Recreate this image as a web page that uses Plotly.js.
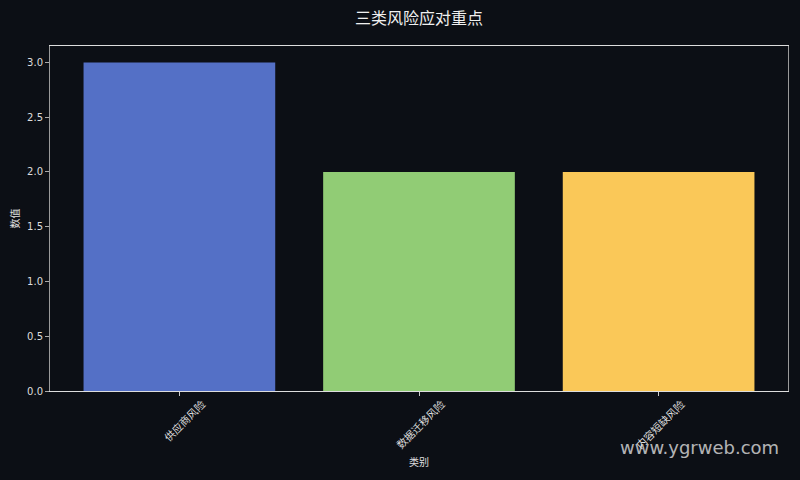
<!DOCTYPE html>
<html>
<head>
<meta charset="utf-8">
<script src="https://cdn.plot.ly/plotly-3.0.1.min.js"></script>
<style>
  html, body { margin: 0; padding: 0; background: #0c0f15; }
  #chart { width: 800px; height: 480px; }
</style>
</head>
<body>
<div id="chart"></div>
<script>
var categories = ['供应商风险', '数据迁移风险', '内容短缺风险'];
var values = [3, 2, 2];
var barColors = ['#5470c6', '#91cc75', '#fac858'];
var yTicks = [0, 0.5, 1, 1.5, 2, 2.5, 3];

var configOptions = {
    staticPlot: true,
    displayModeBar: false
};

var trace = {
    type: 'bar',
    x: [0, 1, 2],
    y: values,
    width: 0.8,
    marker: {
        color: barColors,
        line: { width: 0 }
    },
    hoverinfo: 'none'
};

var layout = {
    width: 800,
    height: 480,
    paper_bgcolor: '#0c0f15',
    plot_bgcolor: '#0c0f15',
    font: { family: 'Noto Sans CJK SC, DejaVu Sans, sans-serif', color: '#e0e0e0', size: 11 },
    title: {
        text: '三类风险应对重点',
        font: { size: 16, color: '#f0f0f0' },
        xref: 'paper',
        x: 0.5,
        xanchor: 'center',
        y: 0.962,
        yanchor: 'middle'
    },
    margin: { l: 50, r: 12, t: 46, b: 89, pad: 0 },
    showlegend: false,
    xaxis: {
        range: [-0.54, 2.54],
        tickvals: [0, 1, 2],
        ticktext: categories,
        tickangle: -45,
        ticklabelshift: 23,
        ticklabelstandoff: -2,
        ticks: 'outside',
        ticklen: 4,
        tickcolor: '#cccccc',
        tickfont: { size: 10.5, color: '#dddddd' },
        showgrid: false,
        zeroline: false,
        showline: true,
        mirror: true,
        linecolor: '#dddddd',
        linewidth: 1,
        title: { text: '类别', font: { size: 10, color: '#e0e0e0' }, standoff: 8 }
    },
    yaxis: {
        range: [0, 3.15],
        tickvals: yTicks,
        ticktext: yTicks.map(function (v) { return v.toFixed(1); }),
        ticks: 'outside',
        ticklen: 4,
        tickcolor: '#aaaaaa',
        tickfont: { size: 10, color: '#dddddd', family: 'DejaVu Sans, sans-serif' },
        showgrid: false,
        zeroline: false,
        showline: true,
        mirror: true,
        linecolor: '#9a9a9a',
        linewidth: 1,
        title: { text: '数值', font: { size: 10, color: '#e0e0e0' }, standoff: 5 }
    },
    annotations: [{
        text: 'www.ygrweb.com',
        xref: 'paper', yref: 'paper',
        x: 0.99, y: -0.165,
        xanchor: 'right', yanchor: 'middle',
        showarrow: false,
        font: { size: 18, color: 'rgba(225,225,225,0.8)', family: 'DejaVu Sans, sans-serif' }
    }]
};

Plotly.newPlot('chart', [trace], layout, configOptions);
</script>
</body>
</html>
